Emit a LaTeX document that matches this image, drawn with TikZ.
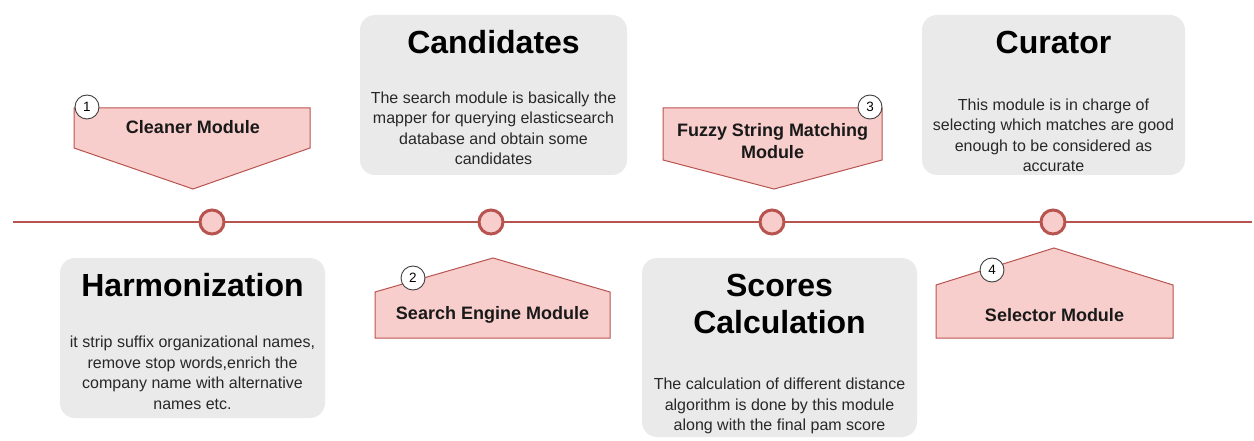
\documentclass[tikz,border=0pt]{standalone}
\usepackage{fontspec}
\setmainfont{Liberation Sans}
\definecolor{pinkfill}{HTML}{F8CECC}
\definecolor{redline}{HTML}{B85450}
\definecolor{boxgray}{RGB}{234,234,234}
\definecolor{bodytext}{RGB}{40,40,40}
\begin{document}
\begin{tikzpicture}[x=1pt,y=-1pt,
  graybox/.style={fill=boxgray, rounded corners=15pt, inner sep=0},
  titletext/.style={font=\fontsize{32}{37}\selectfont\bfseries, align=center, inner sep=0, text=black},
  bodytxt/.style={font=\fontsize{16}{20.5}\selectfont, align=center, inner sep=0, text=bodytext},
  modtext/.style={font=\fontsize{18}{22}\selectfont\bfseries, align=center, inner sep=0, text=black!90},
  pent/.style={fill=pinkfill, draw=redline, line width=1pt, line join=miter},
  stopmark/.style={circle, fill=pinkfill, draw=redline, line width=3pt, minimum size=24pt, inner sep=0},
  numcircle/.style={circle, fill=white, draw=black!75, line width=0.9pt, minimum size=24pt, inner sep=0, font=\fontsize{13.5}{13.5}\selectfont},
  timeline/.style={draw=redline, line width=2.2pt}]
\useasboundingbox (0,0) rectangle (1254,441);

% timeline
\coordinate (tl) at (13,222);
\coordinate (tr) at (1252,222);
\draw[timeline] (tl) -- (tr);
\node[stopmark] (s1) at (212,222) {};
\node[stopmark] (s2) at (491,222) {};
\node[stopmark] (s3) at (772,222) {};
\node[stopmark] (s4) at (1053,222) {};

% gray boxes
\node[graybox, minimum width=267pt, minimum height=160pt] (candbox) at (493.5,95) {};
\node[titletext] (candtitle) at (493.5,42) {Candidates};
\node[bodytxt] (candbody) at (493.5,128.5) {The search module is basically the\\mapper for querying elasticsearch\\database and obtain some\\candidates};

\node[graybox, minimum width=263pt, minimum height=160pt] (curbox) at (1053.5,95) {};
\node[titletext] (curtitle) at (1053.5,42) {Curator};
\node[bodytxt] (curbody) at (1053.5,135.5) {This module is in charge of\\selecting which matches are good\\enough to be considered as\\accurate};

\node[graybox, minimum width=265pt, minimum height=160pt] (harbox) at (192.5,338) {};
\node[titletext] (hartitle) at (192.5,285) {Harmonization};
\node[bodytxt] (harbody) at (192.5,373) {it strip suffix organizational names,\\remove stop words,enrich the\\company name with alternative\\names etc.};

\node[graybox, minimum width=275pt, minimum height=179pt] (scbox) at (779.5,347.5) {};
\node[titletext] (sctitle) at (779.5,303.5) {Scores\\Calculation};
\node[bodytxt] (scbody) at (779.5,406) {The calculation of different distance\\algorithm is done by this module\\along with the final pam score};

% pentagons (modules)
\draw[pent] (74,108) -- (310,108) -- (310,148) -- (193,189) -- (74,148) -- cycle;
\node[modtext] (m1) at (193,127) {Cleaner Module};
\node[numcircle] (n1) at (87,107) {1};

\draw[pent] (375,338) -- (375,292) -- (493,258) -- (610,292) -- (610,338) -- cycle;
\node[modtext] (m2) at (492.5,315) {Search Engine Module};
\node[numcircle] (n2) at (413,278) {2};

\draw[pent] (663,108) -- (882,108) -- (882,160) -- (774,189) -- (663,160) -- cycle;
\node[modtext] (m3) at (772.5,141) {Fuzzy String Matching\\Module};
\node[numcircle] (n3) at (870,107) {3};

\draw[pent] (936,338) -- (936,285) -- (1054,248) -- (1173,285) -- (1173,338) -- cycle;
\node[modtext] (m4) at (1054.5,315) {Selector Module};
\node[numcircle] (n4) at (992,270) {4};
\end{tikzpicture}
\end{document}
